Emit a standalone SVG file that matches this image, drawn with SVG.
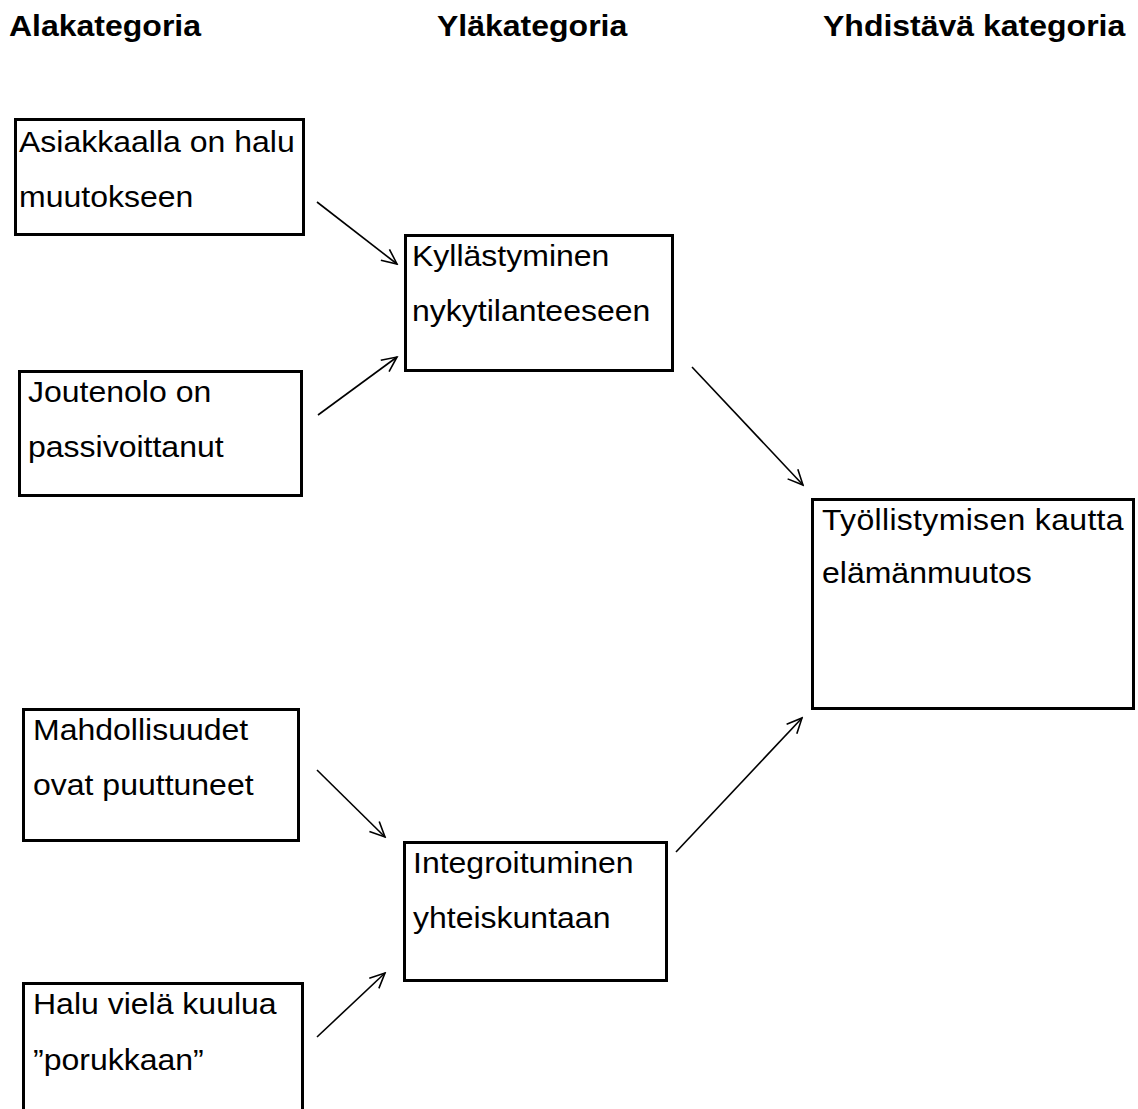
<svg xmlns="http://www.w3.org/2000/svg" width="1138" height="1109" viewBox="0 0 1138 1109">
<style>
.box{fill:#fff;stroke:#000;stroke-width:3}
.t{font-family:"Liberation Sans",Arial,sans-serif;font-size:29.5px;fill:#000}
.h{font-family:"Liberation Sans",Arial,sans-serif;font-size:29.5px;font-weight:bold;fill:#000}
.c{stroke:#000;stroke-width:1.6;fill:none;marker-end:url(#arr)}
</style>
<defs>
<marker id="arr" viewBox="-17 -9 19 18" markerWidth="19" markerHeight="18" refX="0" refY="0" orient="auto" markerUnits="userSpaceOnUse">
<path d="M-15,-7 L0,0 L-15,7" fill="none" stroke="#000" stroke-width="1.6"/>
</marker>
</defs>
<rect width="1138" height="1109" fill="#fff"/>
<g id="headings">
<text class="h" transform="translate(9 36) scale(1.085 1)">Alakategoria</text>
<text class="h" transform="translate(437 36) scale(1.085 1)">Yläkategoria</text>
<text class="h" transform="translate(823 36) scale(1.085 1)">Yhdistävä kategoria</text>
</g>
<g id="connectors">
<line class="c" x1="317" y1="202" x2="397" y2="264"/>
<line class="c" x1="318" y1="415" x2="397" y2="357"/>
<line class="c" x1="692" y1="367" x2="803" y2="485"/>
<line class="c" x1="317" y1="770" x2="385" y2="837"/>
<line class="c" x1="317" y1="1037" x2="385" y2="973"/>
<line class="c" x1="676" y1="852" x2="802" y2="718"/>
</g>
<g id="n1">
<rect class="box" x="15.5" y="119.5" width="288" height="115"/>
<text class="t" transform="translate(19 152) scale(1.085 1)">Asiakkaalla on halu</text>
<text class="t" transform="translate(19 207) scale(1.085 1)">muutokseen</text>
</g>
<g id="n2">
<rect class="box" x="19.5" y="371.5" width="282" height="124"/>
<text class="t" transform="translate(28 402) scale(1.085 1)">Joutenolo on</text>
<text class="t" transform="translate(28 457) scale(1.085 1)">passivoittanut</text>
</g>
<g id="n3">
<rect class="box" x="405.5" y="235.5" width="267" height="135"/>
<text class="t" transform="translate(412 266) scale(1.085 1)">Kyllästyminen</text>
<text class="t" transform="translate(412 321) scale(1.085 1)">nykytilanteeseen</text>
</g>
<g id="n4">
<rect class="box" x="812.5" y="499.5" width="321" height="209"/>
<text class="t" transform="translate(822 530) scale(1.085 1)" textLength="278">Työllistymisen  kautta</text>
<text class="t" transform="translate(822 583) scale(1.085 1)">elämänmuutos</text>
</g>
<g id="n5">
<rect class="box" x="23.5" y="709.5" width="275" height="131"/>
<text class="t" transform="translate(33 740) scale(1.085 1)">Mahdollisuudet</text>
<text class="t" transform="translate(33 795) scale(1.085 1)">ovat puuttuneet</text>
</g>
<g id="n6">
<rect class="box" x="23.5" y="983.5" width="279" height="140"/>
<text class="t" transform="translate(33 1014) scale(1.085 1)">Halu vielä kuulua</text>
<text class="t" transform="translate(33 1070) scale(1.085 1)">”porukkaan”</text>
</g>
<g id="n7">
<rect class="box" x="404.5" y="842.5" width="262" height="138"/>
<text class="t" transform="translate(413 873) scale(1.085 1)">Integroituminen</text>
<text class="t" transform="translate(413 928) scale(1.085 1)">yhteiskuntaan</text>
</g>
</svg>
